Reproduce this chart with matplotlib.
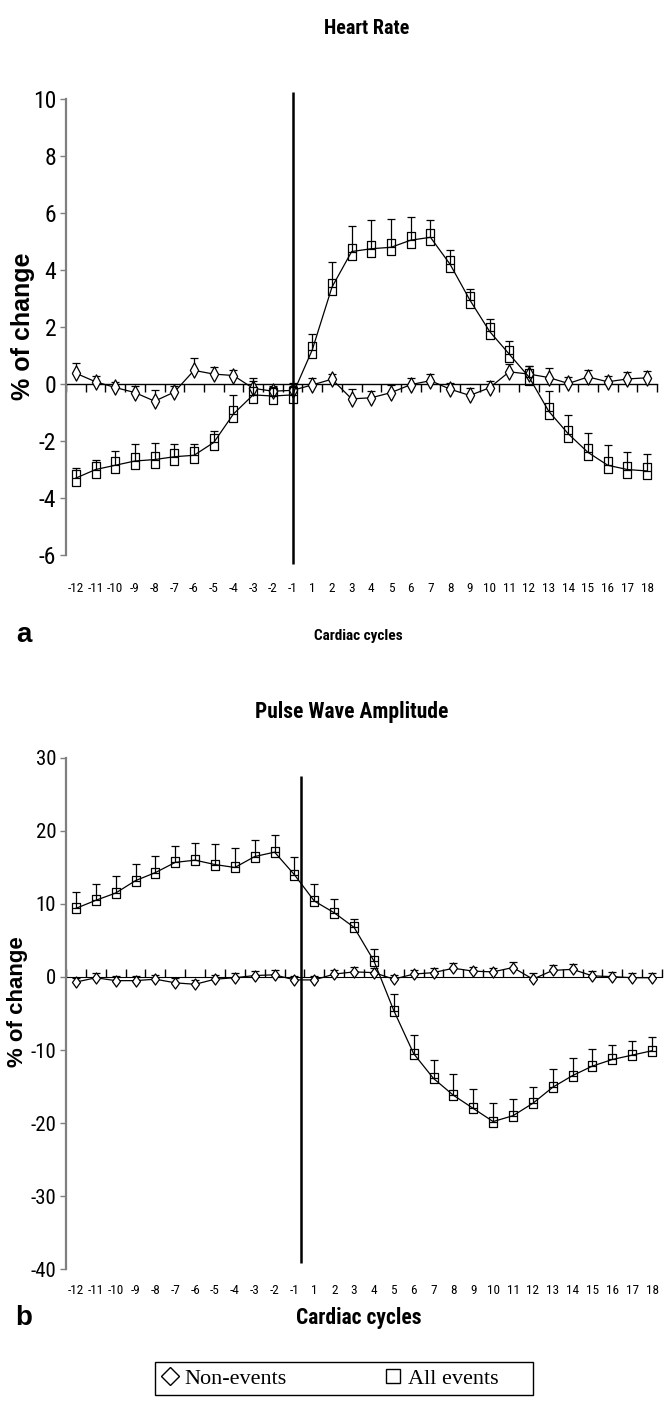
import matplotlib
matplotlib.use("Agg")
import matplotlib.pyplot as plt
from matplotlib import font_manager as fm
from matplotlib.path import Path
from matplotlib.lines import Line2D
from matplotlib.patches import Rectangle
import numpy as np

# ---------------- data ----------------
cycles = [-12, -11, -10, -9, -8, -7, -6, -5, -4, -3, -2, -1,
          1, 2, 3, 4, 5, 6, 7, 8, 9, 10, 11, 12, 13, 14, 15, 16, 17, 18]
cycle_labels = [str(c) for c in cycles]

hr_all = [-3.3, -3.0, -2.85, -2.7, -2.65, -2.55, -2.5, -2.05, -1.05, -0.38, -0.42, -0.38,
          1.2, 3.4, 4.65, 4.75, 4.8, 5.05, 5.15, 4.2, 2.95, 1.85, 1.05, 0.25,
          -0.95, -1.75, -2.4, -2.85, -3.0, -3.05]
hr_all_err = [0.35, 0.35, 0.5, 0.6, 0.58, 0.45, 0.38, 0.42, 0.65, 0.5, 0.3, 0.3,
              0.55, 0.9, 0.9, 1.0, 1.0, 0.8, 0.6, 0.5, 0.38, 0.45, 0.45, 0.4,
              0.7, 0.68, 0.68, 0.72, 0.6, 0.6]
hr_non = [0.38, 0.08, -0.12, -0.3, -0.6, -0.28, 0.48, 0.35, 0.3, -0.15, -0.25, -0.22,
          -0.03, 0.17, -0.52, -0.48, -0.3, -0.02, 0.12, -0.18, -0.4, -0.13, 0.43, 0.35,
          0.23, 0.02, 0.25, 0.08, 0.18, 0.22]
hr_non_err = [0.35, 0.22, 0.2, 0.22, 0.4, 0.2, 0.42, 0.26, 0.2, 0.37, 0.18, 0.25,
              0.25, 0.2, 0.33, 0.25, 0.27, 0.25, 0.25, 0.23, 0.27, 0.25, 0.27, 0.28,
              0.35, 0.22, 0.23, 0.2, 0.23, 0.25]

pwa_all = [9.4, 10.5, 11.5, 13.2, 14.3, 15.7, 16.0, 15.4, 15.0, 16.5, 17.1, 14.0,
           10.4, 8.8, 6.8, 2.2, -4.6, -10.5, -13.9, -16.2, -18.0, -19.8, -19.0, -17.3,
           -15.1, -13.5, -12.2, -11.3, -10.7, -10.1]
pwa_all_err = [2.3, 2.3, 2.4, 2.3, 2.3, 2.3, 2.4, 2.8, 2.7, 2.3, 2.4, 2.5,
               2.4, 1.9, 1.1, 1.7, 2.3, 2.6, 2.5, 2.9, 2.7, 2.5, 2.3, 2.2,
               2.5, 2.4, 2.3, 2.0, 1.9, 1.9]
pwa_non = [-0.7, -0.1, -0.5, -0.5, -0.3, -0.8, -1.0, -0.3, -0.1, 0.2, 0.3, -0.4,
           -0.4, 0.4, 0.7, 0.6, -0.3, 0.4, 0.6, 1.2, 0.8, 0.7, 1.3, -0.3,
           0.9, 1.05, 0.15, 0.05, -0.1, -0.1]
pwa_non_err = [0.6, 0.6, 0.6, 0.6, 0.6, 0.6, 0.6, 0.6, 0.6, 0.6, 0.6, 0.6,
               0.6, 0.6, 0.7, 0.6, 0.6, 0.6, 0.6, 0.7, 0.6, 0.6, 0.8, 0.8,
               0.7, 0.75, 0.65, 0.6, 0.6, 0.6]

event_pos_a = 11.0     # index position of the event marker line, panel a
event_pos_b = 11.35    # panel b
event_span_a = (-6.3, 10.25)
event_span_b = (-39.2, 27.5)

# ---------------- fonts ----------------
def pick(cands, **kw):
    for fam in cands:
        try:
            fm.findfont(fm.FontProperties(family=fam, **kw), fallback_to_default=False)
            return fam
        except Exception:
            continue
    return "DejaVu Sans"

NARROW = pick(["Liberation Sans Narrow", "Roboto Condensed", "Open Sans Condensed", "Liberation Sans"])
ARIAL = pick(["Liberation Sans", "DejaVu Sans"])
SERIF = pick(["Liberation Serif", "DejaVu Serif"])

# ---------------- figure ----------------
W, H = 668, 1408
fig = plt.figure(figsize=(W / 100, H / 100), dpi=100)

def frac_box(left, right, top, bottom):
    return [left / W, 1 - bottom / H, (right - left) / W, (bottom - top) / H]

x = np.arange(len(cycles))

def rect_path(hw):
    return Path([(-hw, -0.5), (hw, -0.5), (hw, 0.5), (-hw, 0.5), (-hw, -0.5)],
                [Path.MOVETO, Path.LINETO, Path.LINETO, Path.LINETO, Path.CLOSEPOLY])

def diam_path(hw):
    return Path([(0, -0.5), (hw, 0), (0, 0.5), (-hw, 0), (0, -0.5)],
                [Path.MOVETO, Path.LINETO, Path.LINETO, Path.LINETO, Path.CLOSEPOLY])


def panel(ax, non, non_err, allv, all_err, ylim, yticks, bounds, ev_pos, ev_span,
          ms_sq, ms_di, mk_sq, mk_di, ytick_size, label_pad):
    zeros = np.zeros(len(x))
    ax.errorbar(x, non, yerr=[zeros, non_err], color="black", lw=0.9,
                elinewidth=0.9, capsize=3, capthick=0.9,
                marker=mk_di, ms=ms_di, mfc="white", mec="black", mew=0.9, zorder=3)
    ax.errorbar(x, allv, yerr=[zeros, all_err], color="black", lw=0.9,
                elinewidth=0.9, capsize=3, capthick=0.9,
                marker=mk_sq, ms=ms_sq, mfc="none", mec="black", mew=0.9, zorder=4)
    ax.vlines(ev_pos, ev_span[0], ev_span[1], color="black", lw=1.8, zorder=5)
    ax.set_xlim(-0.5, len(x) - 0.5)
    ax.set_ylim(*ylim)
    for s in ("top", "right", "bottom"):
        ax.spines[s].set_visible(False)
    ax.spines["left"].set_color("#7f7f7f")
    ax.spines["left"].set_linewidth(1.6)
    ax.spines["left"].set_bounds(*bounds)
    ax.set_yticks(yticks)
    ax.set_yticklabels([str(v) for v in yticks], fontfamily=NARROW, fontsize=ytick_size)
    ax.tick_params(axis="y", length=4, width=1, color="#7f7f7f", pad=3)
    ax.set_xticks(x)
    ax.set_xticklabels(cycle_labels, fontfamily=NARROW, fontsize=9.5)
    ax.tick_params(axis="x", length=0, pad=label_pad)
    # zero axis with category-boundary ticks
    zero_frac = (0 - ylim[0]) / (ylim[1] - ylim[0])
    sec = ax.secondary_xaxis(zero_frac)
    sec.set_xticks(np.arange(-0.5, len(x), 1.0))
    sec.set_xticklabels([])
    sec.tick_params(axis="x", direction="out", length=6, width=1, color="black")
    sec.spines["bottom"].set_linewidth(1.0)


# panel a
ax1 = fig.add_axes(frac_box(66, 657, 92, 565))
panel(ax1, hr_non, hr_non_err, hr_all, hr_all_err, (-6.35, 10.25),
      [-6, -4, -2, 0, 2, 4, 6, 8, 10], (-6, 10), event_pos_a, event_span_a,
      11, 11, rect_path(0.27), diam_path(0.27), 17, 12)
ax1.set_ylabel("% of change", fontfamily=ARIAL, fontweight="bold", fontsize=18)
ax1.yaxis.set_label_coords(-31 / 591, 0.505)

# panel b
ax2 = fig.add_axes(frac_box(66, 662, 756.5, 1270.5))
panel(ax2, pwa_non, pwa_non_err, pwa_all, pwa_all_err, (-40.2, 30.2),
      [-40, -30, -20, -10, 0, 10, 20, 30], (-40, 30), event_pos_b, event_span_b,
      7.5, 8, rect_path(0.36), diam_path(0.36), 15, 10)
ax2.set_ylabel("% of change", fontfamily=ARIAL, fontweight="bold", fontsize=16)
ax2.yaxis.set_label_coords(-38 / 596, 0.524)

# titles and labels
fig.text(367 / W, 1 - 28 / H, "Heart Rate", fontfamily=NARROW, fontweight="bold",
         fontsize=14.5, ha="center", va="center")
fig.text(358 / W, 1 - 636 / H, "Cardiac cycles", fontfamily=NARROW, fontweight="bold",
         fontsize=11, ha="center", va="center")
fig.text(24 / W, 1 - 635 / H, "a", fontfamily=ARIAL, fontweight="bold",
         fontsize=20, ha="center", va="center")
fig.text(352 / W, 1 - 712 / H, "Pulse Wave Amplitude", fontfamily=NARROW, fontweight="bold",
         fontsize=15.5, ha="center", va="center")
fig.text(359 / W, 1 - 1318 / H, "Cardiac cycles", fontfamily=NARROW, fontweight="bold",
         fontsize=15.5, ha="center", va="center")
fig.text(24 / W, 1 - 1318 / H, "b", fontfamily=ARIAL, fontweight="bold",
         fontsize=20, ha="center", va="center")

# legend
handles = [Line2D([], [], ls="none", marker="D", ms=9, mfc="white", mec="black", mew=1.0),
           Line2D([], [], ls="none", marker="s", ms=10.5, mfc="white", mec="black", mew=1.0)]
leg = fig.legend(handles, ["Non-events", "All events"], ncol=2,
                 bbox_to_anchor=(162 / W, 1 - 1378.5 / H),
                 loc="center left", frameon=False, borderaxespad=0, borderpad=0,
                 handlelength=0.7, handletextpad=0.3, columnspacing=4.45,
                 prop={"family": SERIF, "size": 16})
fig.patches.append(Rectangle((155 / W, 1 - 1395 / H), 378 / W, 33 / H,
                             transform=fig.transFigure, fill=False,
                             edgecolor="black", linewidth=1.0))

fig.savefig("out.png", dpi=100)
